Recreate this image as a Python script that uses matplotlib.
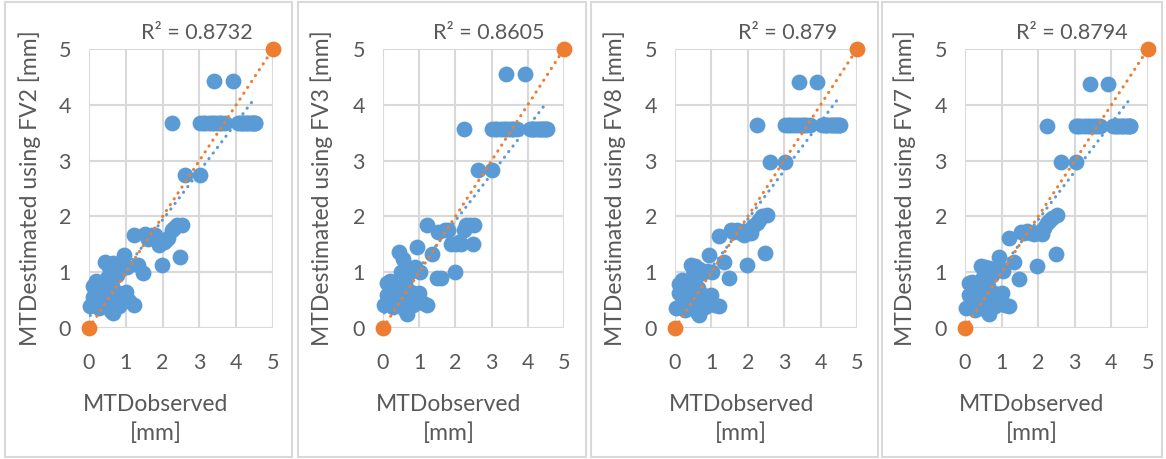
import numpy as np
import matplotlib.pyplot as plt
from matplotlib.patches import Rectangle

plt.rcParams["font.family"] = ["Lato", "DejaVu Sans"]

# observed MTD (shared by all four panels)
obs = [0.03, 0.10, 0.12, 0.18, 0.20, 0.25, 0.28, 0.30, 0.35, 0.40,
       0.44, 0.45, 0.50, 0.52, 0.55, 0.60, 0.62, 0.66, 0.66, 0.70,
       0.75, 0.78, 0.82, 0.88, 0.94, 0.94, 1.00, 1.03, 1.10, 1.21,
       1.21, 1.34, 1.48, 1.53, 1.70, 1.80, 1.89, 1.98, 2.03, 2.15,
       2.25, 2.30, 2.39, 2.52, 2.48, 2.25, 2.62, 3.02, 3.02, 3.15,
       3.25, 3.40, 3.55, 3.70, 3.41, 3.91, 4.11, 4.25, 4.40, 4.52,
       4.18, 4.33, 4.47, 3.33, 3.48, 4.05, 4.15, 4.30, 4.42, 4.50,
       3.10, 3.60, 1.60, 2.10]

est_fv2 = [0.40, 0.55, 0.75, 0.85, 0.45, 0.62, 0.35, 0.80, 0.55, 0.68,
           1.19, 0.42, 0.90, 0.60, 1.10, 0.30, 0.75, 1.16, 0.26, 0.50,
           0.95, 0.62, 0.40, 1.05, 1.31, 0.50, 0.65, 1.10, 0.48, 0.41,
           1.66, 1.13, 0.98, 1.69, 1.66, 1.66, 1.48, 1.13, 1.54, 1.62,
           1.75, 1.80, 1.84, 1.84, 1.28, 3.67, 2.75, 2.75, 3.67, 3.67,
           3.67, 3.67, 3.67, 3.67, 4.42, 4.42, 3.67, 3.67, 3.67, 3.67,
           3.67, 3.67, 3.67, 3.67, 3.67, 3.67, 3.67, 3.67, 3.67, 3.67,
           3.67, 3.67, 1.60, 1.58]

est_fv3 = [0.42, 0.60, 0.80, 0.85, 0.50, 0.65, 0.38, 0.75, 0.55, 0.70,
           1.36, 0.45, 1.00, 0.62, 1.24, 0.32, 0.80, 1.10, 0.25, 0.55,
           1.00, 0.65, 0.42, 1.10, 1.45, 0.55, 0.62, 1.00, 0.45, 0.42,
           1.84, 1.33, 0.89, 1.72, 1.75, 1.75, 1.51, 1.00, 1.51, 1.51,
           1.75, 1.84, 1.84, 1.84, 1.51, 3.57, 2.83, 2.83, 3.57, 3.57,
           3.57, 3.57, 3.57, 3.57, 4.55, 4.55, 3.57, 3.57, 3.57, 3.57,
           3.57, 3.57, 3.57, 3.57, 3.57, 3.57, 3.57, 3.57, 3.57, 3.57,
           3.57, 3.57, 0.89, 1.55]

est_fv8 = [0.35, 0.62, 0.78, 0.86, 0.45, 0.60, 0.33, 0.80, 0.52, 0.68,
           1.13, 0.40, 0.95, 0.58, 1.12, 0.28, 0.72, 1.05, 0.23, 0.52,
           0.98, 0.60, 0.38, 1.02, 1.31, 0.48, 0.60, 1.00, 0.41, 0.40,
           1.64, 1.19, 0.89, 1.76, 1.76, 1.70, 1.67, 1.13, 1.75, 1.82,
           1.88, 1.94, 2.00, 2.03, 1.34, 3.64, 2.98, 2.98, 3.64, 3.64,
           3.64, 3.64, 3.64, 3.64, 4.41, 4.41, 3.64, 3.64, 3.64, 3.64,
           3.64, 3.64, 3.64, 3.64, 3.64, 3.64, 3.64, 3.64, 3.64, 3.64,
           3.64, 3.64, 1.72, 1.70]

est_fv7 = [0.35, 0.60, 0.80, 0.82, 0.45, 0.62, 0.33, 0.78, 0.55, 0.70,
           1.12, 0.42, 0.92, 0.60, 1.10, 0.30, 0.75, 1.08, 0.25, 0.50,
           0.95, 0.62, 0.40, 1.05, 1.28, 0.50, 0.62, 1.02, 0.42, 0.40,
           1.62, 1.18, 0.88, 1.72, 1.74, 1.70, 1.68, 1.12, 1.72, 1.80,
           1.88, 1.92, 1.98, 2.02, 1.32, 3.62, 2.98, 2.98, 3.62, 3.62,
           3.62, 3.62, 3.62, 3.62, 4.37, 4.37, 3.62, 3.62, 3.62, 3.62,
           3.62, 3.62, 3.62, 3.62, 3.62, 3.62, 3.62, 3.62, 3.62, 3.62,
           3.62, 3.62, 1.70, 1.68]

panels = [("FV2", est_fv2, "0.8732"),
          ("FV3", est_fv3, "0.8605"),
          ("FV8", est_fv8, "0.879"),
          ("FV7", est_fv7, "0.8794")]

ideal_x = [0, 5]
ideal_y = [0, 5]

BLUE = "#5b9bd5"
ORANGE = "#ed7d31"
TEXT = "#595959"
GRID = "#d9d9d9"

W, H = 1166, 459
fig = plt.figure(figsize=(W / 100, H / 100), dpi=100)

# pixel layout of each panel
boxes = [(5, 292), (298, 586), (591, 878), (882, 1162)]
plot_x = [(89, 273), (383, 564), (675, 857), (965, 1148)]
ylab_x = [30, 322, 615, 905]
top, bottom = 49, 328

for i, (name, est, r2) in enumerate(panels):
    bx0, bx1 = boxes[i]
    fig.patches.append(Rectangle((bx0 / W, 1 - 457 / H), (bx1 - bx0) / W, 455 / H,
                                 transform=fig.transFigure, fill=False,
                                 edgecolor=GRID, linewidth=1.5))

    x0, x1 = plot_x[i]
    ax = fig.add_axes([x0 / W, 1 - bottom / H, (x1 - x0) / W, (bottom - top) / H])

    ax.scatter(obs, est, s=130, color=BLUE, linewidths=0, zorder=3,
               clip_on=False)
    ax.scatter(ideal_x, ideal_y, s=130, color=ORANGE, linewidths=0,
               zorder=5, clip_on=False)

    # linear trendlines
    k, b = np.polyfit(obs, est, 1)
    tx = np.array([min(obs), max(obs)])
    ax.plot(tx, k * tx + b, color=BLUE, lw=2.2, linestyle=(0, (0.1, 2.2)),
            dash_capstyle="round", zorder=4)
    ax.plot(ideal_x, ideal_y, color=ORANGE, lw=2.2, linestyle=(0, (0.1, 2.2)),
            dash_capstyle="round", zorder=4)

    ax.set_xlim(0, 5)
    ax.set_ylim(0, 5)
    ax.set_xticks(range(6))
    ax.set_yticks(range(6))
    ax.grid(True, color=GRID, linewidth=1.5, zorder=0)
    ax.set_axisbelow(True)
    for s in ax.spines.values():
        s.set_visible(False)
    ax.tick_params(length=0, labelsize=15.5, labelcolor=TEXT)
    ax.tick_params(axis="x", pad=18)
    ax.tick_params(axis="y", pad=13)

    ax.set_ylabel(f"MTDestimated using {name} [mm]", fontsize=16.5,
                  color=TEXT, va="center")
    ax.yaxis.set_label_coords((ylab_x[i] - x0) / (x1 - x0), 0.5)
    ax.set_xlabel("MTDobserved\n[mm]", fontsize=16.5, color=TEXT,
                  va="center", linespacing=1.4)
    ax.xaxis.set_label_coords(0.363, -0.326)

    ax.text(0.89, 1.057, f"R² = {r2}", transform=ax.transAxes, ha="right",
            va="center", fontsize=15.5, color=TEXT)

fig.savefig("out.png", dpi=100)
